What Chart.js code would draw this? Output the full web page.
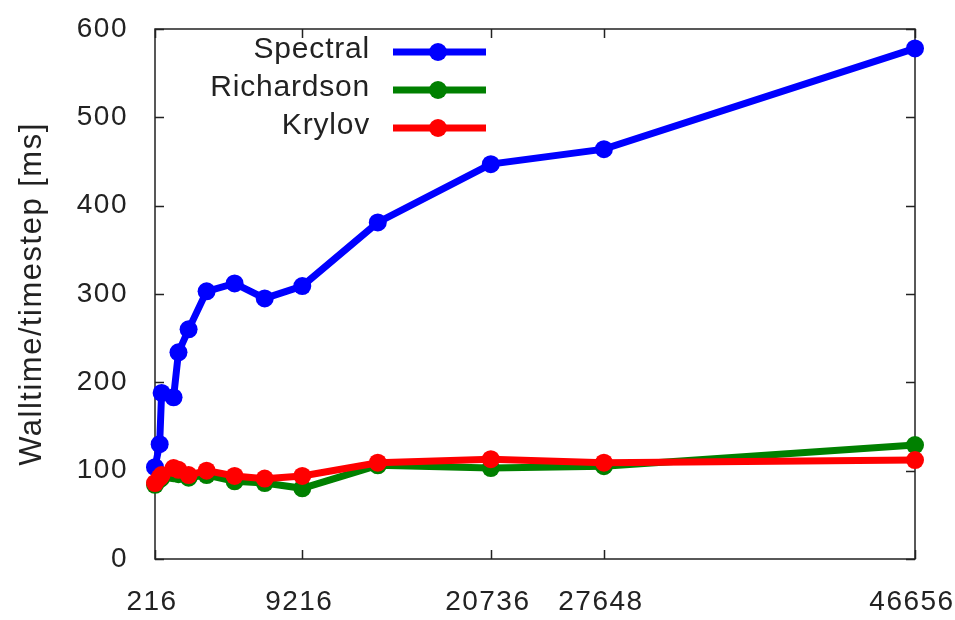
<!DOCTYPE html>
<html>
<head>
<meta charset="utf-8">
<script src="https://cdn.jsdelivr.net/npm/chart.js@4/dist/chart.umd.min.js"></script>
<style>
    body { margin: 0; background: #fff; }
    canvas { display: block; }
</style>
</head>
<body>
<canvas id="myChart" width="955" height="620"></canvas>
<script>
// data
const sizes = [216, 500, 620, 1350, 1650, 2270, 3370, 5080, 6920, 9216, 13830, 20736, 27648, 46656];
const spectral = [104, 130, 188, 183, 234, 260, 303, 312, 295, 309, 381, 447, 464, 578];
const richardson = [84, 90, 92, 97, 96, 92, 95, 88, 86, 80, 106, 103, 105, 129];
const krylov = [86, 92, 95, 103, 101, 95, 100, 94, 91, 94, 109, 113, 109, 112];

const xTicks = [216, 9216, 20736, 27648, 46656];
const yTicks = [0, 100, 200, 300, 400, 500, 600];

const seriesNames = ['Spectral', 'Richardson', 'Krylov'];
const seriesColors = ['#0000ff', '#008000', '#ff0000'];

const textColor = '#222';
const fontFamily = '"Liberation Sans", Arial, sans-serif';

function toPoints(values) {
    return sizes.map((x, i) => ({ x: x, y: values[i] }));
}

function makeSet(i, values, order) {
    return {
        label: seriesNames[i],
        data: toPoints(values),
        borderColor: seriesColors[i],
        backgroundColor: seriesColors[i],
        borderWidth: 7,
        pointRadius: 9,
        pointBorderWidth: 0,
        pointHoverRadius: 9,
        tension: 0,
        clip: false,
        order: order
    };
}

function noPad(scale) {
    scale.paddingTop = 0;
    scale.paddingBottom = 0;
    scale.paddingLeft = 0;
    scale.paddingRight = 0;
}

// gnuplot style frame with inward ticks on all four sides
const framePlugin = {
    id: 'frame',
    beforeDraw(chart) {
        // gnuplot's text is spaced a bit wider
        chart.ctx.letterSpacing = '1.5px';
    },
    beforeDatasetsDraw(chart) {
        const { ctx, chartArea: a, scales } = chart;
        const t = 9;
        ctx.save();
        ctx.strokeStyle = '#222';
        ctx.lineWidth = 1.5;
        ctx.strokeRect(a.left, a.top, a.right - a.left, a.bottom - a.top);
        ctx.beginPath();
        yTicks.forEach(v => {
            const y = Math.round(scales.y.getPixelForValue(v)) + 0.5;
            ctx.moveTo(a.left, y); ctx.lineTo(a.left + t, y);
            ctx.moveTo(a.right, y); ctx.lineTo(a.right - t, y);
        });
        xTicks.forEach(v => {
            const x = Math.round(scales.x.getPixelForValue(v)) + 0.5;
            ctx.moveTo(x, a.bottom); ctx.lineTo(x, a.bottom - t);
            ctx.moveTo(x, a.top); ctx.lineTo(x, a.top + t);
        });
        ctx.stroke();
        ctx.restore();
    },
    afterDraw(chart) {
        // legend: label on the left, line sample with marker on the right
        const ctx = chart.ctx;
        ctx.save();
        ctx.font = '30px ' + fontFamily;
        ctx.letterSpacing = '0.8px';
        ctx.textAlign = 'right';
        ctx.textBaseline = 'middle';
        seriesNames.forEach((name, i) => {
            const y = 52 + i * 38;
            ctx.fillStyle = textColor;
            ctx.fillText(name, 370, y - 2);
            ctx.strokeStyle = seriesColors[i];
            ctx.lineWidth = 7;
            ctx.beginPath();
            ctx.moveTo(393, y);
            ctx.lineTo(486, y);
            ctx.stroke();
            ctx.fillStyle = seriesColors[i];
            ctx.beginPath();
            ctx.arc(438, y, 9, 0, Math.PI * 2);
            ctx.fill();
        });
        ctx.restore();
    }
};

const ctx = document.getElementById('myChart').getContext('2d');
const myChart = new Chart(ctx, {
    type: 'line',
    data: {
        datasets: [
            makeSet(0, spectral, 2),
            makeSet(1, richardson, 1),
            makeSet(2, krylov, 0)
        ]
    },
    options: {
        responsive: false,
        animation: false,
        devicePixelRatio: 1,
        layout: { padding: { top: 29, right: 40, left: 0, bottom: 0 } },
        plugins: {
            legend: { display: false },
            tooltip: { enabled: false }
        },
        scales: {
            x: {
                type: 'linear',
                min: 216,
                max: 46656,
                afterBuildTicks: scale => {
                    scale.ticks = xTicks.map(v => ({ value: v }));
                },
                afterFit: scale => { scale.height = 61; noPad(scale); },
                grid: { display: false, drawTicks: false },
                border: { display: false },
                ticks: {
                    autoSkip: false,
                    maxRotation: 0,
                    padding: 26,
                    labelOffset: -3,
                    color: textColor,
                    font: { family: fontFamily, size: 28 },
                    callback: v => String(v)
                }
            },
            y: {
                min: 0,
                max: 600,
                afterFit: scale => { scale.width = 155; noPad(scale); },
                grid: { display: false, drawTicks: false },
                border: { display: false },
                ticks: {
                    stepSize: 100,
                    padding: 27,
                    color: textColor,
                    font: { family: fontFamily, size: 28 }
                },
                title: {
                    display: true,
                    text: 'Walltime/timestep [ms]',
                    color: textColor,
                    font: { family: fontFamily, size: 31 },
                    padding: { top: 14, bottom: 0 }
                }
            }
        }
    },
    plugins: [framePlugin]
});
</script>
</body>
</html>
